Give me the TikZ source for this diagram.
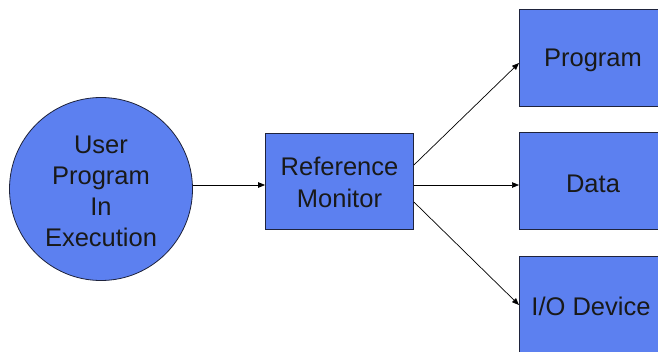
\documentclass[tikz,border=0pt]{standalone}
\usepackage{fontspec}
\setmainfont{Liberation Sans}
\usetikzlibrary{arrows.meta}
\definecolor{boxblue}{RGB}{92,128,240}
\definecolor{edge}{RGB}{30,35,60}
\begin{document}
\begin{tikzpicture}[x=1pt,y=-1pt,
  shape fill/.style={fill=boxblue, draw=edge, line width=0.8pt},
  blk/.style={shape fill, rectangle, minimum width=148pt, minimum height=96pt, inner sep=0pt},
  rblk/.style={shape fill, rectangle, minimum width=148pt, minimum height=97pt, inner sep=0pt},
  lbl/.style={font=\fontsize{25.5}{32}\selectfont, text=black!90, align=center},
  conn/.style={draw=black, line width=0.7pt, -{Triangle[length=7pt,width=5.5pt]}}]
\useasboundingbox (0,0) rectangle (658,351);
\clip (0,0) rectangle (658,351);
\fill[white] (0,0) rectangle (658,351);

% user program
\node[shape fill, circle, minimum size=183pt, inner sep=0pt] (user) at (101,189) {};
\node[lbl, font=\fontsize{25.5}{31}\selectfont] (usertxt) at (101,191) {User\\Program\\In\\Execution};

% reference monitor
\node[blk] (rm) at (339.5,181) {};
\node[lbl] (rmtxt) at (339.5,182) {Reference\\Monitor};

% protected objects
\node[rblk, anchor=west] (prog) at (519,57.5) {};
\node[rblk, anchor=west] (data) at (519,181) {};
\node[rblk, anchor=west] (io)   at (519,304.5) {};
\node[lbl] (progtxt) at (593,60) {Program};
\node[lbl] (datatxt) at (593,184) {Data};
\node[lbl] (iotxt)   at (591,306) {I/O Device};

% connectors
\draw[conn] (user.east |- 0,185) -- (rm.west |- 0,185);
\draw[conn] (rm.east |- 0,165) -- (prog.west |- 0,63);
\draw[conn] (rm.east |- 0,185) -- (data.west |- 0,185);
\draw[conn] (rm.east |- 0,202) -- (io.west |- 0,305);
\end{tikzpicture}
\end{document}
